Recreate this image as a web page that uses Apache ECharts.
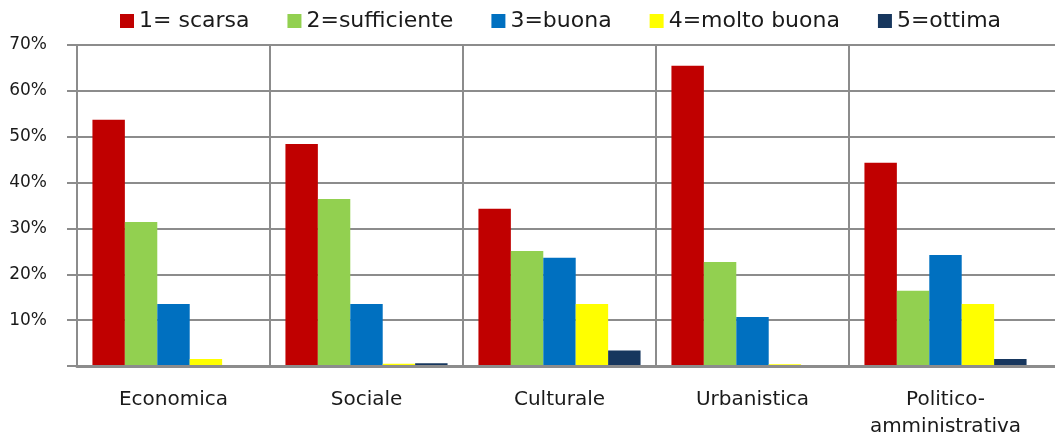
<!DOCTYPE html>
<html>
<head>
<meta charset="utf-8">
<script src="https://cdn.jsdelivr.net/npm/echarts@6/dist/echarts.min.js"></script>
<style>
    html, body { margin: 0; padding: 0; background: #fff; }
    #chart { width: 1055px; height: 434px; }
</style>
</head>
<body>
<div id="chart"></div>
<script>
let categories = ["Economica", "Sociale", "Culturale", "Urbanistica", "Politico-\namministrativa"];
let seriesNames = ["1= scarsa", "2=sufficiente", "3=buona", "4=molto buona", "5=ottima"];
let seriesColors = ["#C00000", "#92D050", "#0070C0", "#FFFF00", "#17375E"];

let scarsa = [53.7, 48.4, 34.3, 65.5, 44.3];
let sufficiente = [31.4, 36.4, 25.1, 22.7, 16.4];
let buona = [13.5, 13.5, 23.6, 10.7, 24.2];
let moltoBuona = [1.5, 0.5, 13.5, 0.4, 13.5];
let ottima = [0, 0.6, 3.4, 0, 1.5];

let yTicks = [0, 10, 20, 30, 40, 50, 60, 70];

let font = "DejaVu Sans";
let gridColor = "#8c8c8c";
let allValues = [scarsa, sufficiente, buona, moltoBuona, ottima];

// the rightmost separator is cut off in the original, so its colour is transparent
let separatorColors = [];
for (let i = 0; i < categories.length; i++) separatorColors.push(gridColor);
separatorColors.push('rgba(0,0,0,0)');

let series = [];
for (let i = 0; i < seriesNames.length; i++) {
    series.push({
        name: seriesNames[i],
        type: 'bar',
        xAxisIndex: 0,
        yAxisIndex: 0,
        data: allValues[i],
        barGap: '0%',
        barCategoryGap: '16%',
        itemStyle: {color: seriesColors[i]},
        emphasis: {disabled: true}
    });
}

let option = {
    animation: false,
    textStyle: {fontFamily: font},
    legend: {
        data: seriesNames,
        top: 5,
        left: 115,
        itemWidth: 14,
        itemHeight: 14,
        itemGap: 38,
        icon: 'rect',
        textStyle: {fontFamily: font, fontSize: 22, color: '#1a1a1a'}
    },
    // grid 0 holds the bars, grid 1 stretches the horizontal lines to the right edge
    grid: [
        {left: 77, right: 13, top: 45, bottom: 68, outerBoundsMode: 'none'},
        {left: 77, right: 0, top: 45, bottom: 68, outerBoundsMode: 'none'}
    ],
    xAxis: [
        {
            type: 'category',
            gridIndex: 0,
            data: categories,
            axisLine: {show: false},
            axisTick: {show: false},
            splitLine: {show: true, lineStyle: {color: separatorColors, width: 2}},
            axisLabel: {
                fontFamily: font,
                fontSize: 20,
                color: '#1a1a1a',
                margin: 20,
                lineHeight: 27,
                interval: 0
            }
        },
        {
            type: 'value',
            gridIndex: 1,
            axisLine: {show: true, lineStyle: {color: gridColor, width: 3}},
            axisTick: {show: false},
            axisLabel: {show: false},
            splitLine: {show: false},
            z: 5
        }
    ],
    yAxis: [
        {
            type: 'value',
            gridIndex: 0,
            min: yTicks[0],
            max: yTicks[yTicks.length - 1],
            interval: 10,
            axisLine: {show: true, lineStyle: {color: gridColor, width: 2}},
            axisTick: {show: true, length: 10, lineStyle: {color: gridColor, width: 2}},
            splitLine: {show: false},
            axisLabel: {
                fontFamily: font,
                fontSize: 17,
                color: '#1a1a1a',
                margin: 30,
                formatter: function (v) { return v == 0 ? '' : v + '%'; }
            }
        },
        {
            type: 'value',
            gridIndex: 1,
            min: yTicks[0],
            max: yTicks[yTicks.length - 1],
            interval: 10,
            axisLine: {show: false},
            axisTick: {show: false},
            axisLabel: {show: false},
            splitLine: {show: true, lineStyle: {color: gridColor, width: 2}}
        }
    ],
    series: series
};

let chart = echarts.init(document.getElementById('chart'));
chart.setOption(option);
</script>
</body>
</html>
